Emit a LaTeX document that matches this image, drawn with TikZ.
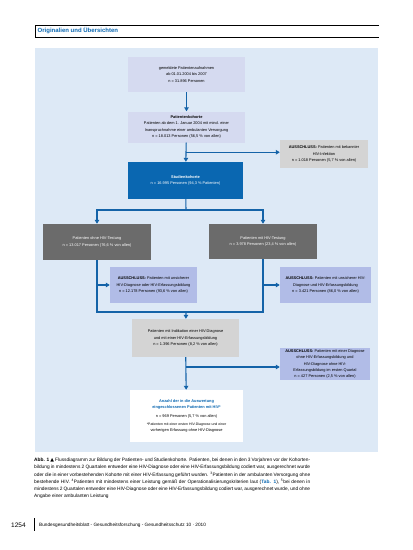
\documentclass[tikz,border=0pt]{standalone}
\usepackage{fontspec}
\setmainfont{Liberation Sans}
\newfontfamily\symfont{DejaVu Sans}
\usetikzlibrary{arrows.meta,calc}
\definecolor{panel}{HTML}{DDE9F6}
\definecolor{lavA}{HTML}{D5DAF0}
\definecolor{lavB}{HTML}{B1BCE7}
\definecolor{dgray}{HTML}{6B6B6B}
\definecolor{lgray}{HTML}{D4D4D4}
\definecolor{rkiblue}{HTML}{0A67B1}
\definecolor{linkblue}{HTML}{1463A8}
\begin{document}
\begin{tikzpicture}[x=1pt,y=-1pt,
  boxbase/.style={inner sep=1pt,align=center,font=\fontsize{3.9}{6.3}\selectfont},
  lav/.style={boxbase,fill=lavA},
  excl/.style={boxbase,fill=lavB},
  darkbox/.style={boxbase,fill=dgray,text=white},
  lightbox/.style={boxbase,fill=lgray},
  bluebox/.style={boxbase,fill=rkiblue,text=white},
  whitebox/.style={boxbase,fill=white},
  conn/.style={draw=linkblue,line width=1.1pt},
  arr/.style={conn,-{Triangle[length=4pt,width=4.5pt]}}
]
\useasboundingbox (0,0) rectangle (413,550);
\fill[white] (0,0) rectangle (413,550);
% header
\draw[line width=0.7pt] (379,25) -- (35,25) -- (35,37) -- (379,37);
\node[anchor=west,inner sep=0pt,text=rkiblue,font=\fontsize{6}{7}\selectfont\bfseries] (hdr) at (37.5,31) {Originalien und Übersichten};
% panel
\fill[panel] (35,48) rectangle (378,452);

% nodes
\node[lav,minimum width=117pt,minimum height=35pt] (b1) at (186.5,74.5)
  {gemeldete Patientenaufnahmen\\ ab 01.01.2004 bis 2007\\ n = 31.896 Personen};
\node[lav,minimum width=117pt,minimum height=31pt] (b2) at (186.5,127)
  {\textbf{Patientenkohorte}\\ Patienten ab dem 1. Januar 2004 mit mind. einer\\ Inanspruchnahme einer ambulanten Versorgung\\ n = 18.013 Personen (56,5 \% von allen)};
\node[lightbox,minimum width=88pt,minimum height=28pt] (e1) at (324,154)
  {\textbf{AUSSCHLUSS:} Patienten mit bekannter\\ HIV-Infektion\\ n = 1.018 Personen (5,7 \% von allen)};
\node[bluebox,minimum width=115pt,minimum height=37pt] (st) at (185.5,180.5)
  {\textbf{Studienkohorte}\\ n = 16.995 Personen (94,3 \% Patienten)};
\node[darkbox,minimum width=108pt,minimum height=36pt] (g1) at (97,242)
  {Patienten ohne HIV-Testung\\ n = 13.017 Personen (76,6 \% von allen)};
\node[darkbox,minimum width=108pt,minimum height=35pt] (g2) at (263,241.5)
  {Patienten mit HIV-Testung\\ n = 3.978 Personen (23,4 \% von allen)};
\node[excl,minimum width=87pt,minimum height=36pt] (x1) at (153.5,285)
  {\textbf{AUSSCHLUSS:} Patienten mit unsicherer\\ HIV-Diagnose oder HIV-Erfassungsbildung\\ n = 12.178 Personen (93,6 \% von allen)};
\node[excl,minimum width=91pt,minimum height=36pt] (x2) at (325.5,285)
  {\textbf{AUSSCHLUSS:} Patienten mit unsicherer HIV-\\ Diagnose und HIV-Erfassungsbildung\\ n = 3.421 Personen (86,0 \% von allen)};
\node[lightbox,minimum width=107pt,minimum height=38pt] (m) at (185.5,338)
  {Patienten mit Indikation einer HIV-Diagnose\\ und mit einer HIV-Erfassungsbildung\\ n = 1.396 Personen (8,2 \% von allen)};
\node[excl,minimum width=90pt,minimum height=32pt] (x3) at (325,364)
  {\textbf{AUSSCHLUSS:} Patienten mit einer Diagnose\\ ohne HIV-Erfassungsbildung und\\ HIV-Diagnose ohne HIV-\\ Erfassungsbildung im ersten Quartal\\ n = 427 Personen (2,5 \% von allen)};
\node[whitebox,minimum width=113pt,minimum height=52pt] (w) at (186.5,416)
  {\textcolor{rkiblue}{\textbf{Anzahl der in die Auswertung}}\\
   \textcolor{rkiblue}{\textbf{eingeschlossenen Patienten mit HIV*}}\\[2pt]
   n = 969 Personen (5,7 \% von allen)\\[2pt]
   \fontsize{3.5}{5}\selectfont *Patienten mit einer ersten HIV-Diagnose und einer\\ vorherigen Erfassung ohne HIV-Diagnose};

% connectors
\coordinate (j1) at ($(b2.south)!0.5!(st.north)$);
\coordinate (j2) at (186,210);
\coordinate (j3) at (186,312);
\coordinate (j4) at (186,367);
\draw[arr] (b1) -- (b2);
\draw[arr] (b2) -- (st);
\draw[arr] (j1) -- (e1.west |- j1);
\draw[conn] (st) -- (j2);
\draw[arr] (j2) -| (g1.north);
\draw[arr] (j2) -| (g2.north);
\draw[conn] (g1.south) |- (j3);
\draw[conn] (g2.south) |- (j3);
\draw[arr] (j3) -- (m);
\draw[arr] (g1.south |- x1.west) -- (x1.west);
\draw[arr] (g2.south |- x2.west) -- (x2.west);
\draw[arr] (m) -- (w);
\draw[arr] (j4) -- (x3.west |- j4);

% caption
\node[anchor=north west,inner sep=0pt,text width=276pt,align=justify,font=\fontsize{4.8}{7.2}\selectfont] (cap) at (34,458)
  {\textbf{Abb. 1} {\symfont ▲} Flussdiagramm zur Bildung der Patienten- und Studienkohorte. Patienten, bei denen in den 3 Vorjahren vor der Kohortenbildung in mindestens 2 Quartalen entweder eine HIV-Diagnose oder eine HIV-Erfassungsbildung codiert war, ausgerechnet wurde oder die in einer vorbestehenden Kohorte mit einer HIV-Erfassung geführt wurden. \textsuperscript{3}Patienten in der ambulanten Versorgung ohne bestehende HIV. \textsuperscript{4}Patienten mit mindestens einer Leistung gemäß der Operationalisierungskriterien laut (\textcolor{rkiblue}{\textbf{Tab. 1}}), \textsuperscript{5}bei denen in mindestens 2 Quartalen entweder eine HIV-Diagnose oder eine HIV-Erfassungsbildung codiert war, ausgerechnet wurde, und ohne Angabe einer ambulanten Leistung};
% footer
\node[anchor=west,inner sep=0pt,font=\fontsize{6.5}{7}\selectfont] (pg) at (11,525) {1254};
\draw[line width=0.6pt] (34,518) -- (34,531);
\node[anchor=west,inner sep=0pt,font=\fontsize{4.7}{6}\selectfont] (ft) at (39,525)
  {Bundesgesundheitsblatt - Gesundheitsforschung - Gesundheitsschutz 10 · 2010};
\end{tikzpicture}
\end{document}
